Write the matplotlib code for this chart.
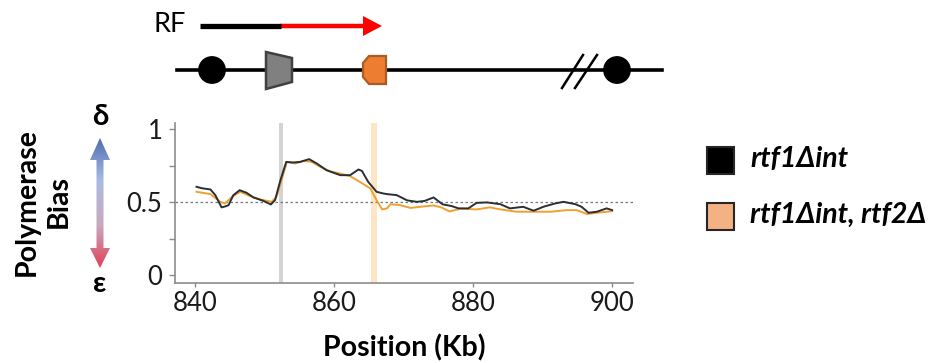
import numpy as np
import matplotlib
matplotlib.use("Agg")
import matplotlib.pyplot as plt
from matplotlib.patches import Polygon, Circle, Rectangle, FancyArrow
from matplotlib.colors import LinearSegmentedColormap

plt.rcParams['font.family'] = ['Lato', 'Open Sans', 'DejaVu Sans']

# rtf1Δint (black)
kb_black = [840.2, 841.0, 842.2, 842.9, 843.8, 844.3, 844.8, 845.5, 846.4, 847.4,
            848.4, 849.8, 850.9, 851.5, 852.2, 853.1, 854.1, 855.1, 856.4, 857.5,
            858.9, 860.0, 860.9, 862.3, 863.5, 864.0, 864.9, 866.1, 867.0, 867.6,
            869.0, 870.5, 871.9, 873.0, 874.3, 875.6, 876.9, 877.9, 879.3, 880.5,
            882.0, 883.9, 885.3, 887.2, 888.7, 890.1, 891.8, 893.0, 894.7, 895.6,
            896.6, 897.8, 899.2, 900.0]
bias_black = [0.605, 0.595, 0.587, 0.548, 0.464, 0.470, 0.479, 0.548, 0.582, 0.564,
              0.532, 0.509, 0.484, 0.514, 0.639, 0.776, 0.772, 0.776, 0.795, 0.765,
              0.719, 0.700, 0.685, 0.685, 0.724, 0.714, 0.639, 0.571, 0.560, 0.555,
              0.548, 0.512, 0.502, 0.508, 0.532, 0.485, 0.473, 0.457, 0.457, 0.495,
              0.498, 0.486, 0.457, 0.468, 0.441, 0.468, 0.491, 0.502, 0.486, 0.468,
              0.427, 0.434, 0.457, 0.445]

# rtf1Δint, rtf2Δ (orange)
kb_orange = [840.2, 842.2, 843.6, 844.3, 845.3, 846.5, 847.9, 849.4, 851.0, 851.7,
             852.5, 853.2, 854.4, 855.6, 856.8, 858.0, 859.4, 860.9, 862.3, 863.7,
             865.2, 866.1, 866.9, 867.6, 868.1, 869.5, 871.0, 872.4, 874.3, 875.4,
             876.6, 878.2, 880.5, 882.4, 883.9, 886.3, 888.7, 891.1, 893.5, 894.9,
             896.4, 897.8, 900.0]
bias_orange = [0.571, 0.555, 0.502, 0.491, 0.536, 0.571, 0.541, 0.518, 0.502, 0.536,
               0.662, 0.776, 0.765, 0.783, 0.776, 0.742, 0.712, 0.696, 0.678, 0.639,
               0.594, 0.514, 0.450, 0.457, 0.486, 0.479, 0.460, 0.468, 0.477, 0.464,
               0.436, 0.455, 0.450, 0.464, 0.450, 0.434, 0.434, 0.434, 0.445, 0.445,
               0.418, 0.427, 0.438]

gray_band = (852.0, 852.7)
orange_band = (865.3, 866.2)
x_ticks = [840, 860, 880, 900]
y_ticks = [0, 0.5, 1]
y_labels = ['0', '0.5', '1']
legend_labels = ['rtf1\u0394int', 'rtf1\u0394int, rtf2\u0394']
legend_colors = ['black', '#f4b183']

W, H = 931, 363
fig = plt.figure(figsize=(W / 100, H / 100), dpi=100)

# main data axes
ax = fig.add_axes([175 / W, (H - 282.7) / H, (633 - 175) / W, (282.7 - 123.3) / H])
ax.axvspan(*gray_band, color='#d4d4d4', lw=0, zorder=0)
ax.axvspan(*orange_band, color='#fde6c4', lw=0, zorder=0)
ax.axhline(0.5, color='#777777', lw=0.9, ls=(0, (2, 2)), zorder=1)
ax.plot(kb_orange, bias_orange, color='#f0a030', lw=1.4, zorder=2)
ax.plot(kb_black, bias_black, color='#2a2f36', lw=1.4, zorder=3)
ax.set_xlim(837.1, 903.0)
ax.set_ylim(-0.053, 1.041)
ax.set_xticks(x_ticks)
ax.set_xticklabels([str(t) for t in x_ticks])
ax.set_yticks(y_ticks)
ax.set_yticklabels(y_labels)
ax.set_yticks([0.25, 0.75], minor=True)
for s in ['top', 'right']:
    ax.spines[s].set_visible(False)
for s in ['left', 'bottom']:
    ax.spines[s].set_color('#8c8c8c')
    ax.spines[s].set_linewidth(1.2)
ax.tick_params(axis='both', which='both', color='#8c8c8c', width=1, length=4,
               labelsize=18.5, labelcolor='#1a1a1a')
ax.tick_params(axis='y', pad=5)
ax.tick_params(axis='x', pad=3, length=3)
ax.set_xlabel('Position (Kb)', fontsize=20.5, fontweight='bold', labelpad=13)

# overlay for diagram, arrow and legend (pixel coordinates)
ov = fig.add_axes([0, 0, 1, 1], zorder=-1)
ov.set_xlim(0, W)
ov.set_ylim(H, 0)
ov.axis('off')

# replication fork arrow
ov.text(170, 25, 'RF', fontsize=19.5, ha='center', va='center')
ov.plot([200, 281], [26, 26], color='black', lw=3.8, solid_capstyle='butt')
ov.add_patch(FancyArrow(280, 26, 102, 0, width=4.5, head_width=20, head_length=19,
                        length_includes_head=True, color='#ff0000', lw=0))

# chromosome line
ov.plot([177, 662], [70, 70], color='black', lw=2.6, zorder=1)
ov.add_patch(Circle((212, 70), 13.2, color='black', zorder=3))
ov.add_patch(Circle((617, 70), 13.2, color='black', zorder=3))
ov.add_patch(Polygon([[266, 52], [292, 58], [292, 82], [266, 89]], closed=True,
                     facecolor='#808080', edgecolor='#404040', lw=1.8, zorder=3))
ov.add_patch(Polygon([[369, 56], [386, 56], [386, 84], [369, 84], [363, 77], [363, 63]],
                     closed=True, facecolor='#ed7d31', edgecolor='#b05a22', lw=1.6, zorder=3))
ov.plot([562, 583], [88, 55], color='black', lw=1.8, zorder=4)
ov.plot([575, 597], [88, 55], color='black', lw=1.8, zorder=4)

# y label and polymerase arrow
ov.text(43, 202, 'Polymerase\nBias', rotation=90, fontsize=20.5, fontweight='bold',
        ha='center', va='center', multialignment='center', linespacing=1.3)
ov.text(100, 117, '\u03b4', fontsize=21, fontweight='bold', ha='center', va='center')
ov.text(100, 284, '\u03b5', fontsize=21, fontweight='bold', ha='center', va='center')
arrow_pts = [[100, 138], [110, 160], [103.5, 160], [103.5, 248], [110, 248], [100, 268],
             [90, 248], [96.5, 248], [96.5, 160], [90, 160]]
arrow_poly = Polygon(arrow_pts, closed=True, facecolor='none', edgecolor='none')
ov.add_patch(arrow_poly)
cmap = LinearSegmentedColormap.from_list('pb', ['#4a6aae', '#a9bce2', '#c9a9bd', '#e43a52'])
grad = np.linspace(0, 1, 256).reshape(-1, 1)
im = ov.imshow(grad, cmap=cmap, extent=[88, 112, 270, 136], aspect='auto', zorder=2)
im.set_clip_path(arrow_poly)
ov.set_xlim(0, W)
ov.set_ylim(H, 0)

# legend
for i, (lab, col) in enumerate(zip(legend_labels, legend_colors)):
    y0 = 147 + i * 56
    ov.add_patch(Rectangle((707, y0), 27, 27, facecolor=col, edgecolor='#262626', lw=1.5))
    ov.text(750, y0 + 12, lab, fontsize=20.5, fontweight='bold', fontstyle='italic',
            ha='left', va='center')

fig.savefig('out.png', dpi=100)
